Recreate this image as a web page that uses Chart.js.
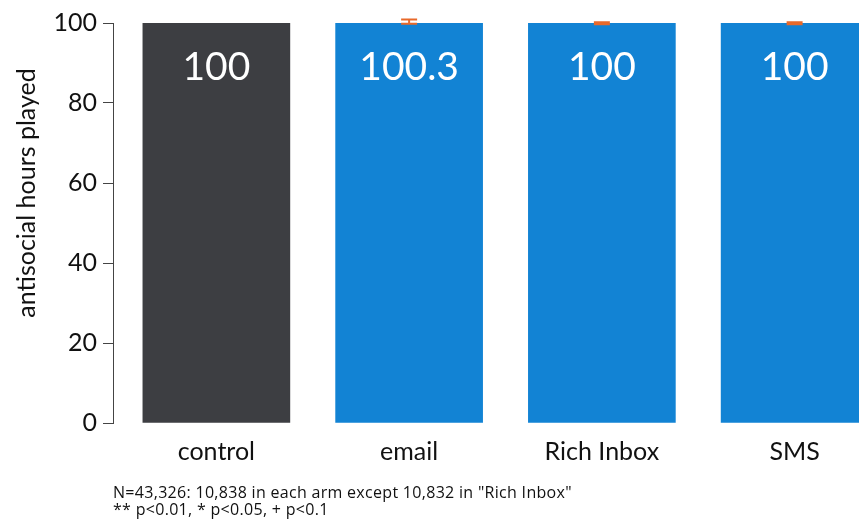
<!DOCTYPE html>
<html>
<head>
<meta charset="utf-8">
<script src="https://cdn.jsdelivr.net/npm/chart.js@4"></script>
<style>
  html, body { margin: 0; padding: 0; background: #fff; overflow: hidden; }
  #wrap { position: relative; width: 859px; height: 521px; overflow: hidden; }
  #chart { position: absolute; left: 0; top: 0; }
  .note { position: absolute; left: 113px; font-family: "Open Sans", sans-serif; font-size: 16px; letter-spacing: 0.3px; color: #111; line-height: 17px; }
</style>
</head>
<body>
<div id="wrap">
  <canvas id="chart" width="895" height="521"></canvas>
  <div class="note" style="top:484px">N=43,326: 10,838 in each arm except 10,832 in "Rich Inbox"<br>** p&lt;0.01, * p&lt;0.05, + p&lt;0.1</div>
</div>
<script>
// grupe i vrednosti
let grupe = ["control", "email", "Rich Inbox", "SMS"];
let sati = [100, 100.3, 100, 100];
let greskaDole = [null, 99.8, 99.7, 99.7];
let greskaGore = [null, 100.9, 100.2, 100.2];
let yTikovi = [0, 20, 40, 60, 80, 100];

let boje = ["#3d3e42", "#1283d4", "#1283d4", "#1283d4"];
let narandzasta = "#e8692a";
let font = "Lato, sans-serif";

// brojevi u barovima + error barovi
let oznake = {
    id: "oznake",
    afterDatasetsDraw(chart) {
        let ctx = chart.ctx;
        let y = chart.scales.y;
        let meta = chart.getDatasetMeta(0);
        ctx.save();
        meta.data.forEach(function (bar, i) {
            // error bar
            if (greskaDole[i] !== null) {
                let y1 = y.getPixelForValue(greskaDole[i]);
                let y2 = y.getPixelForValue(greskaGore[i]);
                ctx.strokeStyle = narandzasta;
                ctx.lineWidth = 2;
                ctx.beginPath();
                ctx.moveTo(bar.x, y1); ctx.lineTo(bar.x, y2);
                ctx.moveTo(bar.x - 8, y1); ctx.lineTo(bar.x + 8, y1);
                ctx.moveTo(bar.x - 8, y2); ctx.lineTo(bar.x + 8, y2);
                ctx.stroke();
            }
            ctx.fillStyle = "#fff";
            ctx.font = "39px " + font;
            ctx.textAlign = "center";
            ctx.textBaseline = "middle";
            ctx.fillText(String(sati[i]), bar.x, y.getPixelForValue(100) + 44);
        });

        // naslov y ose
        ctx.fillStyle = "#111";
        ctx.font = "25px " + font;
        ctx.translate(27, 193);
        ctx.rotate(-Math.PI / 2);
        ctx.fillText("antisocial hours played", 0, 0);
        ctx.restore();
    }
};

let ctx = document.getElementById("chart").getContext("2d");

let grafik = new Chart(ctx, {
    type: "bar",
    data: {
        datasets: [{
            data: sati.map((v, i) => ({ x: i, y: v })),
            backgroundColor: boje,
            barThickness: 147
        }]
    },
    options: {
        responsive: false,
        animation: false,
        layout: { padding: { left: 0, right: 4, top: 23, bottom: 0 } },
        plugins: { legend: { display: false }, tooltip: { enabled: false } },
        scales: {
            x: {
                type: "linear",
                offset: false,
                min: -0.5 - 7 / 193,
                max: 3.5,
                afterBuildTicks: function (scale) {
                    scale.ticks = grupe.map((g, i) => ({ value: i }));
                },
                afterFit: function (scale) { scale.height = 98; },
                grid: { display: false, offset: false },
                border: { display: false },
                ticks: {
                    callback: (v) => grupe[v],
                    font: { family: font, size: 25 },
                    color: "#111",
                    padding: 6,
                    maxRotation: 0,
                    autoSkip: false
                }
            },
            y: {
                min: 0,
                max: 100,
                afterBuildTicks: function (scale) {
                    scale.ticks = yTikovi.map(v => ({ value: v }));
                },
                afterFit: function (scale) { scale.width = 113; },
                grid: { drawOnChartArea: false, tickLength: 10, color: "#444" },
                border: { color: "#444" },
                ticks: {
                    font: { family: font, size: 25 },
                    color: "#111",
                    padding: 6
                }
            }
        }
    },
    plugins: [oznake]
});
</script>
</body>
</html>
